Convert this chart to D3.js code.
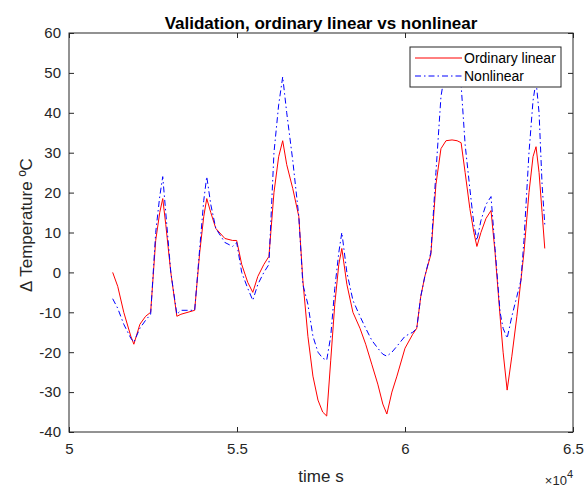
<!DOCTYPE html>
<html>
<head>
<meta charset="utf-8">
<script src="https://cdn.jsdelivr.net/npm/d3@7"></script>
<style>
  body { margin: 0; background: #fff; }
  svg { display: block; font-family: "Liberation Sans", Arial, sans-serif; }
</style>
</head>
<body>
<svg id="chart" width="586" height="488"></svg>
<script>
// temps (s) et écarts de température
const timeS = [51300, 51450, 51630, 51840, 51930, 52110, 52280, 52430, 52580, 52700,
  52790, 52880, 53030, 53210, 53330, 53740, 53890, 54010, 54100, 54220,
  54370, 54640, 54870, 54990, 55140, 55320, 55470, 55620, 55800, 55950,
  56100, 56240, 56360, 56480, 56660, 56840, 56960, 57110, 57260, 57410,
  57550, 57670, 57790, 57910, 58030, 58120, 58270, 58450, 58660, 58830,
  59010, 59190, 59340, 59460, 59610, 59760, 60000, 60230, 60350, 60470,
  60590, 60770, 60920, 61070, 61220, 61400, 61550, 61670, 61790, 61930,
  62050, 62140, 62260, 62410, 62560, 62680, 62830, 62920, 63040, 63180,
  63330, 63450, 63540, 63690, 63810, 63900, 63990, 64080, 64160];

const ordinaryLinear = [0, -3.5, -10, -16, -18, -13, -11, -10, 8, 15,
  18.5, 12, 0, -11, -10.5, -9.5, 5, 14, 18.5, 15,
  11, 8.5, 8, 8, 2, -2.5, -5, -1, 2, 4,
  20, 29, 33, 27, 21, 14, -2, -16, -26, -32,
  -35, -36, -22, -8, 2, 6, -3, -10, -14, -18,
  -23, -28, -33, -35.5, -30, -26, -19, -15.5, -14, -6,
  -1, 4.5, 22, 31, 33, 33.2, 33, 32.5, 25, 16,
  10, 6.5, 10, 13.5, 15.5, 5, -11, -20, -29.5, -21,
  -11, -2, 5, 20, 29, 31.5, 25, 15, 6];

const nonlinear = [-6.6, -9, -13, -16.5, -17.5, -14, -12, -10.5, 10, 19,
  24, 15, 0, -10.5, -9.5, -9.5, 6, 18, 24, 17,
  11, 7.5, 6.5, 7.5, 0, -4, -7, -3, 0, 2,
  30, 42, 49, 40, 28, 14, -3, -8, -16, -20,
  -21.5, -22, -16, -4, 5, 10, 0, -7, -11, -14,
  -17, -19, -20.5, -21, -20, -18.5, -16, -15, -14, -6,
  -1, 5, 25, 44, 52, 54, 53, 47, 32, 21,
  12, 8, 13, 17, 19, 6, -10, -14, -16.5, -11,
  -6, -2, 8, 30, 43, 48, 40, 22, 12];

const xTicks = [50000, 55000, 60000, 65000];
const yTicks = [-40, -30, -20, -10, 0, 10, 20, 30, 40, 50, 60];

const series = [
  { label: "Ordinary linear", values: ordinaryLinear, col: "#ff0000", dash: null },
  { label: "Nonlinear", values: nonlinear, col: "#0000ff", dash: "6,3,1.5,3" }
];

// Zone de tracé
const plot = { left: 69, top: 33, right: 573, bottom: 432 };
const axisCol = "#262626";

const svg = d3.select("#chart");

const scaleX = d3.scaleLinear().domain([50000, 65000]).range([plot.left, plot.right]);
const scaleY = d3.scaleLinear().domain([-40, 60]).range([plot.bottom, plot.top]);

svg.append("defs").append("clipPath").attr("id", "clip")
  .append("rect")
  .attr("x", plot.left).attr("y", plot.top)
  .attr("width", plot.right - plot.left).attr("height", plot.bottom - plot.top);

// courbes
const line = d3.line()
  .x((d, i) => scaleX(timeS[i]))
  .y(d => scaleY(d));

svg.append("g").attr("clip-path", "url(#clip)")
  .selectAll("path")
  .data(series)
  .join("path")
  .attr("fill", "none")
  .attr("stroke", d => d.col)
  .attr("stroke-width", 1)
  .attr("stroke-dasharray", d => d.dash)
  .attr("d", d => line(d.values));

// axes : ticks vers l'intérieur, boîte complète
const fmtX = d => (d / 10000).toString();
const fmtY = d => String(d); // trait d'union simple comme MATLAB

svg.append("g")
  .attr("transform", `translate(0, ${plot.bottom})`)
  .call(d3.axisBottom(scaleX).tickValues(xTicks).tickFormat(fmtX).tickSizeInner(-5).tickSizeOuter(0).tickPadding(11))
  .call(g => g.select(".domain").remove())
  .call(g => g.selectAll("text").attr("font-size", 15).attr("fill", axisCol).attr("font-family", null));

svg.append("g")
  .attr("transform", `translate(0, ${plot.top})`)
  .call(d3.axisTop(scaleX).tickValues(xTicks).tickFormat("").tickSizeInner(-5).tickSizeOuter(0))
  .call(g => g.select(".domain").remove());

svg.append("g")
  .attr("transform", `translate(${plot.left}, 0)`)
  .call(d3.axisLeft(scaleY).tickValues(yTicks).tickFormat(fmtY).tickSizeInner(-5).tickSizeOuter(0).tickPadding(8))
  .call(g => g.select(".domain").remove())
  .call(g => g.selectAll("text").attr("font-size", 15).attr("fill", axisCol).attr("font-family", null));

svg.append("g")
  .attr("transform", `translate(${plot.right}, 0)`)
  .call(d3.axisRight(scaleY).tickValues(yTicks).tickFormat("").tickSizeInner(-5).tickSizeOuter(0))
  .call(g => g.select(".domain").remove());

svg.selectAll(".tick line").attr("stroke", axisCol);

svg.append("rect")
  .attr("x", plot.left).attr("y", plot.top)
  .attr("width", plot.right - plot.left).attr("height", plot.bottom - plot.top)
  .attr("fill", "none").attr("stroke", axisCol).attr("stroke-width", 1);

// titres
svg.append("text")
  .attr("x", (plot.left + plot.right) / 2).attr("y", 29)
  .attr("text-anchor", "middle").attr("font-weight", "bold").attr("font-size", 17)
  .attr("fill", "#000")
  .text("Validation, ordinary linear vs nonlinear");

svg.append("text")
  .attr("x", (plot.left + plot.right) / 2).attr("y", 482)
  .attr("text-anchor", "middle").attr("font-size", 17).attr("fill", axisCol)
  .text("time s");

svg.append("text")
  .attr("transform", `translate(32, 225) rotate(-90)`)
  .attr("text-anchor", "middle").attr("font-size", 17).attr("fill", axisCol)
  .text("Δ Temperature ºC");

// facteur ×10^4
const mult = svg.append("text")
  .attr("x", 573).attr("y", 485)
  .attr("text-anchor", "end").attr("font-size", 13).attr("fill", axisCol);
mult.append("tspan").text("×10");
mult.append("tspan").attr("dy", -7).attr("font-size", 11).text("4");

// légende
const legendBox = { x: 410, y: 47, w: 151, h: 40 };
svg.append("rect")
  .attr("x", legendBox.x).attr("y", legendBox.y)
  .attr("width", legendBox.w).attr("height", legendBox.h)
  .attr("fill", "#fff").attr("stroke", axisCol).attr("stroke-width", 1);

const legend = svg.selectAll(".legend")
  .data(series)
  .join("g")
  .attr("class", "legend")
  .attr("transform", (d, i) => `translate(${legendBox.x}, ${legendBox.y + 11 + i * 18})`);

legend.append("line")
  .attr("x1", 5).attr("x2", 52)
  .attr("stroke", d => d.col).attr("stroke-width", 1)
  .attr("stroke-dasharray", d => d.dash);

legend.append("text")
  .attr("x", 54).attr("y", 5)
  .attr("font-size", 14).attr("fill", "#000")
  .text(d => d.label);
</script>
</body>
</html>
